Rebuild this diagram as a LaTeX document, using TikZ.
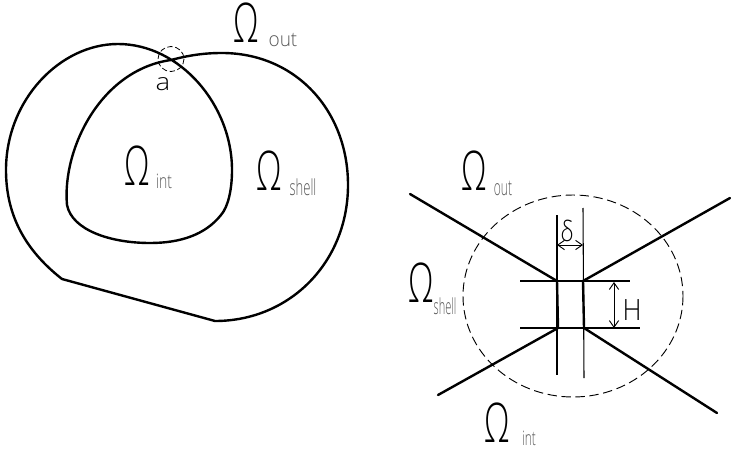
\documentclass[tikz,border=0pt]{standalone}
\usepackage{fontspec}
\setmainfont{Open Sans Light}
\newfontfamily\omfont{Open Sans Light}
\usetikzlibrary{arrows.meta}
\tikzset{
  thickline/.style={line width=1.8pt,line cap=round,line join=round,black},
  thinline/.style={line width=0.8pt,black},
  dashline/.style={line width=0.7pt,black,dash pattern=on 7pt off 3.5pt},
  dimline/.style={line width=0.7pt,black,{Straight Barb[length=5pt,width=7pt]}-{Straight Barb[length=5pt,width=7pt]}},
  omega/.style={inner sep=0pt,font=\omfont\fontsize{41}{41}\selectfont,xscale=.6,anchor=center,yshift=-2pt},
  subs/.style={inner sep=0pt,text=black!65,font=\fontsize{15}{15}\selectfont},
  mark label/.style={inner sep=0pt,font=\fontsize{18}{18}\selectfont}
}
\begin{document}
\begin{tikzpicture}[x=0.75pt,y=-0.75pt]
\useasboundingbox (0,0) rectangle (731,449);
% left figure
\draw[thickline] (62,279) .. controls (25,250) and (6,215) .. (6,170)
  .. controls (6,100) and (60,44) .. (118,44)
  .. controls (180,44) and (232,105) .. (232,170)
  .. controls (232,190) and (228,207) .. (221,215)
  .. controls (205,235) and (180,243) .. (150,243)
  .. controls (110,243) and (72,230) .. (67,205)
  .. controls (62,150) and (100,70) .. (171,60)
  .. controls (190,55) and (205,53) .. (222,53)
  .. controls (295,53) and (348,110) .. (348,185)
  .. controls (348,262) and (290,321) .. (215,321)
  -- cycle;
\draw[line width=.6pt,dash pattern=on 4pt off 2pt] (171,59) ellipse [x radius=13,y radius=12.5];
\node[mark label,xscale=1.15] (a) at (163,84) {a};
\node[omega] (o1) at (246,20) {Ω};
\node[subs,xscale=.95] (o1s) at (283,40) {out};
\node[omega] (o2) at (137,163) {Ω};
\node[subs,xscale=.7] (o2s) at (164,181) {int};
\node[omega] (o3) at (269,168) {Ω};
\node[subs,xscale=.65,yscale=1.1] (o3s) at (303,187) {shell};
% right figure
\coordinate (tl) at (557,281);
\coordinate (tr) at (583,281);
\coordinate (bl) at (558,328);
\coordinate (br) at (584,328);
\draw[dashline] (573,296) ellipse [x radius=110,y radius=101];
\draw[thickline] (410,194) -- (tl) -- (bl) -- (438,395);
\draw[thickline] (730,198) -- (tr) -- (br) -- (717,413);
\draw[thinline] (557,215) -- (557,375);
\draw[thinline] (583,208) -- (584,378);
\draw[thinline] (520,281) -- (630,281);
\draw[thinline] (520,328) -- (640,328);
\draw[dimline] (557,245) -- (583,245);
\draw[dimline] (614,282) -- (614,328);
\node[mark label,font=\fontsize{21}{21}\selectfont,xscale=.8] (d) at (567,231) {δ};
\node[mark label,font=\fontsize{22}{22}\selectfont,xscale=.9] (h) at (632,310) {H};
\node[omega] (o4) at (474,168) {Ω};
\node[subs,xscale=.6,yscale=1.1] (o4s) at (503,188) {out};
\node[omega] (o5) at (421,280) {Ω};
\node[subs,xscale=.55,yscale=1.1] (o5s) at (445,306) {shell};
\node[omega] (o6) at (497,420) {Ω};
\node[subs,xscale=.6] (o6s) at (529,438) {int};
\end{tikzpicture}
\end{document}
